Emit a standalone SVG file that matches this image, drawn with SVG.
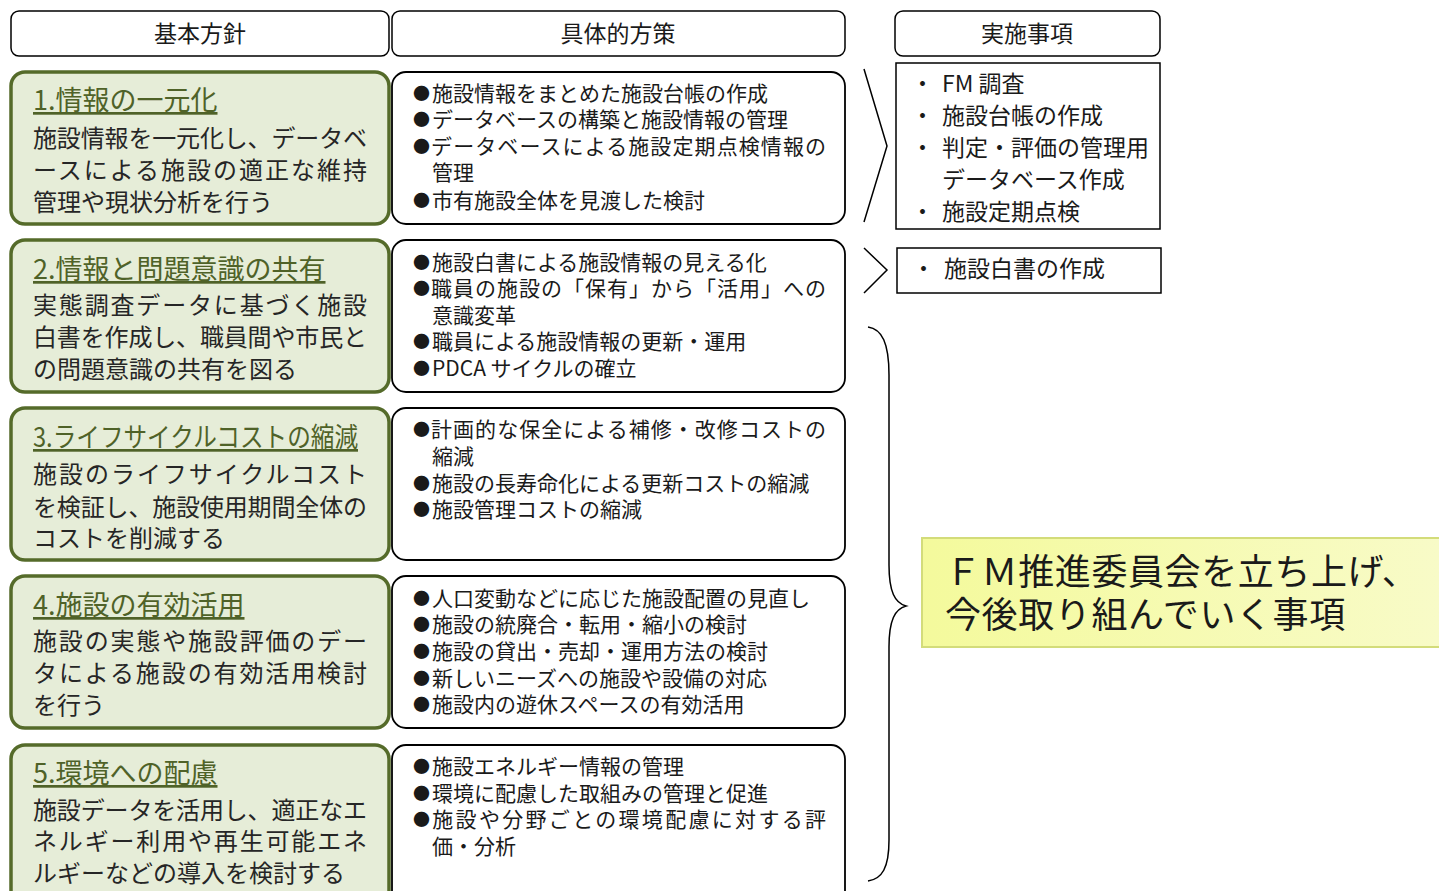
<svg xmlns="http://www.w3.org/2000/svg" width="1439" height="891" viewBox="0 0 1439 891">
<defs>
<linearGradient id="yg" x1="0" y1="0" x2="1" y2="0">
<stop offset="0" stop-color="#f4fa9c"/>
<stop offset="1" stop-color="#f8fbc8"/>
</linearGradient>
<style>
text{font-family:"Noto Sans CJK JP","Noto Sans CJK SC",sans-serif;fill:#1a1a1a}
.hdr{fill:#fff;stroke:#000;stroke-width:1.5}
.hdrt{font-size:23px;text-anchor:middle}
.pol{fill:#e6edd8;stroke:#556b2a;stroke-width:3.5}
.tt{font-size:27px;fill:#4f6228;text-decoration:underline}
.bd{font-size:24px;fill:#262626}
.mid{fill:#fff;stroke:#000;stroke-width:1.8}
.mt{font-size:21px}
.b{font-size:17px}
.rb{fill:#fff;stroke:#000;stroke-width:1.5}
.rt{font-size:23px}
.ln{fill:none;stroke:#000;stroke-width:1.5}
.yt{font-size:36px;letter-spacing:0.6px}
</style>
</defs>
<rect width="1439" height="891" fill="#fff"/>

<g id="header-kihon"><rect class="hdr" x="11" y="11" width="378" height="45" rx="8"/><text class="hdrt" x="200" y="42">基本方針</text></g>
<g id="header-gutai"><rect class="hdr" x="392" y="11" width="453" height="45" rx="8"/><text class="hdrt" x="618" y="42">具体的方策</text></g>
<g id="header-jisshi"><rect class="hdr" x="895" y="11" width="265" height="45" rx="8"/><text class="hdrt" x="1027" y="42">実施事項</text></g>

<g id="policy1"><rect class="pol" x="11" y="72" width="378" height="152" rx="14"/>
<text class="tt" x="33" y="110">1.情報の一元化</text>
<text class="bd" x="33" y="147" textLength="334" lengthAdjust="spacing">施設情報を一元化し、データベ</text>
<text class="bd" x="33" y="179" textLength="334" lengthAdjust="spacing">ースによる施設の適正な維持</text>
<text class="bd" x="33" y="211">管理や現状分析を行う</text></g>

<g id="policy2"><rect class="pol" x="11" y="240" width="378" height="152" rx="14"/>
<text class="tt" x="33" y="279">2.情報と問題意識の共有</text>
<text class="bd" x="33" y="314" textLength="334" lengthAdjust="spacing">実態調査データに基づく施設</text>
<text class="bd" x="33" y="346" textLength="334" lengthAdjust="spacing">白書を作成し、職員間や市民と</text>
<text class="bd" x="33" y="378">の問題意識の共有を図る</text></g>

<g id="policy3"><rect class="pol" x="11" y="408" width="378" height="152" rx="14"/>
<text class="tt" x="33" y="447" textLength="325" lengthAdjust="spacingAndGlyphs">3.ライフサイクルコストの縮減</text>
<text class="bd" x="33" y="483" textLength="334" lengthAdjust="spacing">施設のライフサイクルコスト</text>
<text class="bd" x="33" y="516" textLength="334" lengthAdjust="spacing">を検証し、施設使用期間全体の</text>
<text class="bd" x="33" y="547">コストを削減する</text></g>

<g id="policy4"><rect class="pol" x="11" y="576" width="378" height="152" rx="14"/>
<text class="tt" x="33" y="615">4.施設の有効活用</text>
<text class="bd" x="33" y="650" textLength="334" lengthAdjust="spacing">施設の実態や施設評価のデー</text>
<text class="bd" x="33" y="682" textLength="334" lengthAdjust="spacing">タによる施設の有効活用検討</text>
<text class="bd" x="33" y="714">を行う</text></g>

<g id="policy5"><rect class="pol" x="11" y="745" width="378" height="165" rx="14"/>
<text class="tt" x="33" y="783">5.環境への配慮</text>
<text class="bd" x="33" y="819" textLength="334" lengthAdjust="spacing">施設データを活用し、適正なエ</text>
<text class="bd" x="33" y="850" textLength="334" lengthAdjust="spacing">ネルギー利用や再生可能エネ</text>
<text class="bd" x="33" y="882">ルギーなどの導入を検討する</text></g>

<g id="measure1"><rect class="mid" x="392" y="72" width="453" height="152" rx="14"/>
<text class="mt" x="413" y="101"><tspan class="b" dy="-1.5">●</tspan><tspan dx="2" dy="1.5">施設情報をまとめた施設台帳の作成</tspan></text>
<text class="mt" x="413" y="127"><tspan class="b" dy="-1.5">●</tspan><tspan dx="2" dy="1.5">データベースの構築と施設情報の管理</tspan></text>
<text class="mt" x="413" y="154" textLength="413" lengthAdjust="spacing"><tspan class="b" dy="-1.5">●</tspan><tspan dy="1.5">データベースによる施設定期点検情報の</tspan></text>
<text class="mt" x="432" y="180">管理</text>
<text class="mt" x="413" y="208"><tspan class="b" dy="-1.5">●</tspan><tspan dx="2" dy="1.5">市有施設全体を見渡した検討</tspan></text></g>

<g id="measure2"><rect class="mid" x="392" y="240" width="453" height="152" rx="14"/>
<text class="mt" x="413" y="270"><tspan class="b" dy="-1.5">●</tspan><tspan dx="2" dy="1.5">施設白書による施設情報の見える化</tspan></text>
<text class="mt" x="413" y="296" textLength="413" lengthAdjust="spacing"><tspan class="b" dy="-1.5">●</tspan><tspan dy="1.5">職員の施設の「保有」から「活用」への</tspan></text>
<text class="mt" x="432" y="323">意識変革</text>
<text class="mt" x="413" y="349"><tspan class="b" dy="-1.5">●</tspan><tspan dx="2" dy="1.5">職員による施設情報の更新・運用</tspan></text>
<text class="mt" x="413" y="376"><tspan class="b" dy="-1.5">●</tspan><tspan dx="2" dy="1.5">PDCA サイクルの確立</tspan></text></g>

<g id="measure3"><rect class="mid" x="392" y="408" width="453" height="152" rx="14"/>
<text class="mt" x="413" y="437" textLength="413" lengthAdjust="spacing"><tspan class="b" dy="-1.5">●</tspan><tspan dy="1.5">計画的な保全による補修・改修コストの</tspan></text>
<text class="mt" x="432" y="464">縮減</text>
<text class="mt" x="413" y="491"><tspan class="b" dy="-1.5">●</tspan><tspan dx="2" dy="1.5">施設の長寿命化による更新コストの縮減</tspan></text>
<text class="mt" x="413" y="517"><tspan class="b" dy="-1.5">●</tspan><tspan dx="2" dy="1.5">施設管理コストの縮減</tspan></text></g>

<g id="measure4"><rect class="mid" x="392" y="576" width="453" height="152" rx="14"/>
<text class="mt" x="413" y="606"><tspan class="b" dy="-1.5">●</tspan><tspan dx="2" dy="1.5">人口変動などに応じた施設配置の見直し</tspan></text>
<text class="mt" x="413" y="632"><tspan class="b" dy="-1.5">●</tspan><tspan dx="2" dy="1.5">施設の統廃合・転用・縮小の検討</tspan></text>
<text class="mt" x="413" y="659"><tspan class="b" dy="-1.5">●</tspan><tspan dx="2" dy="1.5">施設の貸出・売却・運用方法の検討</tspan></text>
<text class="mt" x="413" y="686"><tspan class="b" dy="-1.5">●</tspan><tspan dx="2" dy="1.5">新しいニーズへの施設や設備の対応</tspan></text>
<text class="mt" x="413" y="712"><tspan class="b" dy="-1.5">●</tspan><tspan dx="2" dy="1.5">施設内の遊休スペースの有効活用</tspan></text></g>

<g id="measure5"><rect class="mid" x="392" y="745" width="453" height="165" rx="14"/>
<text class="mt" x="413" y="774"><tspan class="b" dy="-1.5">●</tspan><tspan dx="2" dy="1.5">施設エネルギー情報の管理</tspan></text>
<text class="mt" x="413" y="801"><tspan class="b" dy="-1.5">●</tspan><tspan dx="2" dy="1.5">環境に配慮した取組みの管理と促進</tspan></text>
<text class="mt" x="413" y="827" textLength="413" lengthAdjust="spacing"><tspan class="b" dy="-1.5">●</tspan><tspan dy="1.5">施設や分野ごとの環境配慮に対する評</tspan></text>
<text class="mt" x="432" y="854">価・分析</text></g>

<g id="connectors">
<polyline class="ln" points="864,69 887,146 864,222"/>
<polyline class="ln" points="864,248 887,270 864,293"/>
<path class="ln" d="M868,327 C882,329 889,343 889,375 L889,565 C889,592 895,603 906,606 C895,609 889,620 889,647 L889,840 C889,868 882,879 868,881"/>
</g>

<g id="impl1"><rect class="rb" x="896" y="63" width="264" height="166"/>
<text class="rt" x="911" y="92">・</text><text class="rt" x="942" y="92">FM 調査</text>
<text class="rt" x="911" y="124">・</text><text class="rt" x="942" y="124">施設台帳の作成</text>
<text class="rt" x="911" y="156">・</text><text class="rt" x="942" y="156">判定・評価の管理用</text>
<text class="rt" x="942" y="188">データベース作成</text>
<text class="rt" x="911" y="220">・</text><text class="rt" x="942" y="220">施設定期点検</text></g>

<g id="impl2"><rect class="rb" x="897" y="248" width="264" height="45"/>
<text class="rt" x="912" y="277">・</text><text class="rt" x="944" y="277">施設白書の作成</text></g>

<g id="committee"><rect x="922" y="538" width="525" height="109" fill="url(#yg)" stroke="#d3dc7a" stroke-width="2"/>
<text class="yt" x="945" y="585">ＦＭ推進委員会を立ち上げ、</text>
<text class="yt" x="945" y="628">今後取り組んでいく事項</text></g>
</svg>
